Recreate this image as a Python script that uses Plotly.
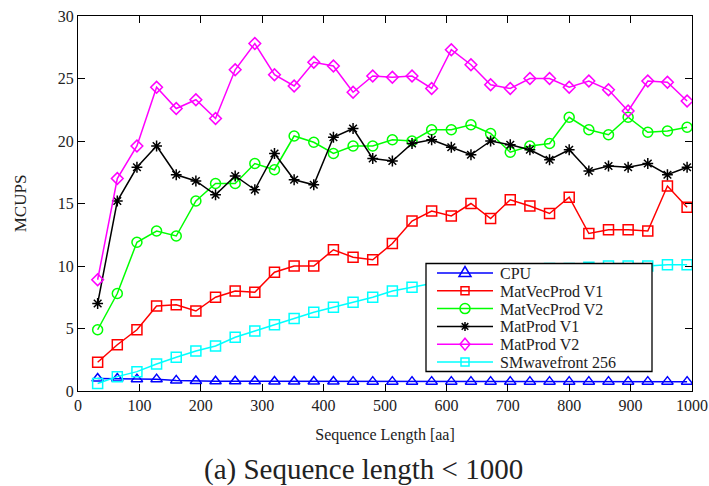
import plotly.graph_objects as go

# ---------------- data ----------------
seq_len = [32 * i for i in range(1, 32)]

cpu = [1.0, 1.0, 0.95, 0.95, 0.85, 0.8, 0.78, 0.78, 0.78, 0.76, 0.76, 0.76, 0.76, 0.75, 0.75, 0.75,
       0.75, 0.75, 0.75, 0.75, 0.75, 0.75, 0.75, 0.75, 0.75, 0.75, 0.75, 0.75, 0.75, 0.75, 0.75]
matvec_v1 = [2.3, 3.7, 4.9, 6.8, 6.9, 6.4, 7.5, 8.0, 7.9, 9.5, 10.0, 10.0, 11.3, 10.7, 10.5, 11.8,
             13.6, 14.4, 14.0, 15.0, 13.8, 15.3, 14.8, 14.2, 15.5, 12.6, 12.9, 12.9, 12.8, 16.4, 14.7]
matvec_v2 = [4.9, 7.8, 11.9, 12.8, 12.4, 15.2, 16.6, 16.6, 18.2, 17.7, 20.4, 19.9, 19.0, 19.6, 19.6, 20.1,
             20.0, 20.9, 20.9, 21.3, 20.6, 19.1, 19.6, 19.8, 21.9, 20.9, 20.5, 21.9, 20.7, 20.8, 21.1]
matprod_v1 = [7.0, 15.2, 17.9, 19.6, 17.3, 16.8, 15.7, 17.2, 16.1, 19.0, 16.9, 16.5, 20.3, 21.0, 18.6, 18.4,
              19.8, 20.1, 19.5, 18.9, 20.0, 19.7, 19.3, 18.5, 19.3, 17.6, 18.0, 17.9, 18.2, 17.3, 17.9]
matprod_v2 = [8.9, 17.0, 19.6, 24.3, 22.6, 23.3, 21.8, 25.7, 27.8, 25.3, 24.4, 26.3, 26.0, 23.9, 25.2, 25.1,
              25.2, 24.2, 27.3, 26.1, 24.5, 24.2, 25.0, 25.0, 24.3, 24.8, 24.1, 22.4, 24.8, 24.7, 23.2]
smwave = [0.6, 1.15, 1.55, 2.16, 2.7, 3.2, 3.6, 4.3, 4.8, 5.3, 5.8, 6.3, 6.7, 7.1, 7.5, 8.0,
          8.3, 8.6, 8.9, 9.2, 9.4, 9.6, 9.7, 9.8, 9.8, 9.9, 10.0, 10.0, 10.0, 10.1, 10.1]

series_names = ["CPU", "MatVecProd V1", "MatVecProd V2", "MatProd V1", "MatProd V2", "SMwavefront 256"]
series_values = [cpu, matvec_v1, matvec_v2, matprod_v1, matprod_v2, smwave]
series_colors = ["#0000ff", "#ff0000", "#00ff00", "#000000", "#ff00ff", "#00ffff"]
series_symbols = ["triangle-up-open", "square-open", "circle-open", "asterisk-open", "diamond-open", "square-open"]
marker_sizes = [10, 10, 10, 9, 9, 10]

x_ticks = [0, 100, 200, 300, 400, 500, 600, 700, 800, 900, 1000]
y_ticks = [0, 5, 10, 15, 20, 25, 30]

# ---------------- layout constants ----------------
W, H = 709, 486
ML, MR, MT, MB = 78, 17, 16, 95
PW, PH = W - ML - MR, H - MT - MB
FONT = "Liberation Serif"
TXT = "#222222"


def px_x(px):
    return (px - ML) / PW


def px_y(py):
    return (H - MB - py) / PH


fig = go.Figure()
for name, vals, color, sym, ms in zip(series_names, series_values, series_colors, series_symbols, marker_sizes):
    fig.add_trace(go.Scatter(
        x=seq_len, y=vals, name=name, mode="lines+markers", showlegend=False,
        line=dict(color=color, width=1.5),
        marker=dict(symbol=sym, size=ms, color=color, line=dict(color=color, width=1.5)),
    ))

axis_common = dict(
    showgrid=False, zeroline=False, showline=True, linecolor="black", linewidth=1.3,
    mirror="allticks", ticks="inside", ticklen=7, tickcolor="black", tickwidth=1,
    tickfont=dict(family=FONT, size=16, color=TXT), automargin=False,
)

fig.update_layout(
    width=W, height=H,
    margin=dict(l=ML, r=MR, t=MT, b=MB, autoexpand=False),
    paper_bgcolor="white", plot_bgcolor="white",
    font=dict(family=FONT, color="black"),
    xaxis=dict(range=[0, 1000], tickvals=x_ticks, ticktext=[str(v) for v in x_ticks],
               title=dict(text="Sequence Length [aa]", font=dict(family=FONT, size=16, color=TXT), standoff=15),
               **axis_common),
    yaxis=dict(range=[0, 30], tickvals=y_ticks, ticktext=[str(v) for v in y_ticks],
               title=dict(text="MCUPS", font=dict(family=FONT, size=17, color=TXT), standoff=26),
               **axis_common),
    showlegend=False,
)

# ---------------- manual legend ----------------
ROW0, ROWSTEP = 273.0, 17.8
LX0, LX1 = 426, 652
LY0, LY1 = ROW0 - 9.5, ROW0 + 5 * ROWSTEP + 9.5
KEY_X0, KEY_X1, KEY_XM, TEXT_X = 437, 493, 465, 499

shapes = [dict(type="rect", xref="paper", yref="paper", x0=px_x(LX0), x1=px_x(LX1),
               y0=px_y(LY1), y1=px_y(LY0), line=dict(color="black", width=1.3),
               fillcolor="white", layer="above")]

glyph_paths = {
    "triangle-up-open": "M -6,-3.5 L 6,-3.5 L 0,6.5 Z",
    "square-open": "M -4,-4 L 4,-4 L 4,4 L -4,4 Z",
    "asterisk-open": "M -4.5,0 L 4.5,0 M 0,-4.5 L 0,4.5 M -3.3,-3.3 L 3.3,3.3 M -3.3,3.3 L 3.3,-3.3",
    "diamond-open": "M 0,6 L 5,0 L 0,-6 L -5,0 Z",
}

annotations = []
for i, (name, color, sym) in enumerate(zip(series_names, series_colors, series_symbols)):
    ry = ROW0 + i * ROWSTEP
    shapes.append(dict(type="line", xref="paper", yref="paper", x0=px_x(KEY_X0), x1=px_x(KEY_X1),
                       y0=px_y(ry), y1=px_y(ry), line=dict(color=color, width=1.5), layer="above"))
    if sym == "circle-open":
        shapes.append(dict(type="circle", xref="paper", yref="paper", xsizemode="pixel", ysizemode="pixel",
                           xanchor=px_x(KEY_XM), yanchor=px_y(ry), x0=-5, x1=5, y0=-5, y1=5,
                           line=dict(color=color, width=1.5), fillcolor="rgba(0,0,0,0)", layer="above"))
    else:
        shapes.append(dict(type="path", xref="paper", yref="paper", xsizemode="pixel", ysizemode="pixel",
                           xanchor=px_x(KEY_XM), yanchor=px_y(ry), path=glyph_paths[sym],
                           line=dict(color=color, width=1.5), fillcolor="rgba(0,0,0,0)", layer="above"))
    annotations.append(dict(text=name, xref="paper", yref="paper", x=px_x(TEXT_X), y=px_y(ry + 0.5),
                            xanchor="left", yanchor="middle", showarrow=False, borderpad=0,
                            font=dict(family=FONT, size=16, color=TXT)))

annotations.append(dict(text="(a) Sequence length &lt; 1000", x=px_x(363), y=px_y(469),
                        xref="paper", yref="paper", xanchor="center", yanchor="middle", showarrow=False,
                        font=dict(family=FONT, size=29, color=TXT)))

fig.update_layout(shapes=shapes, annotations=annotations)

fig.write_html("out.html")
